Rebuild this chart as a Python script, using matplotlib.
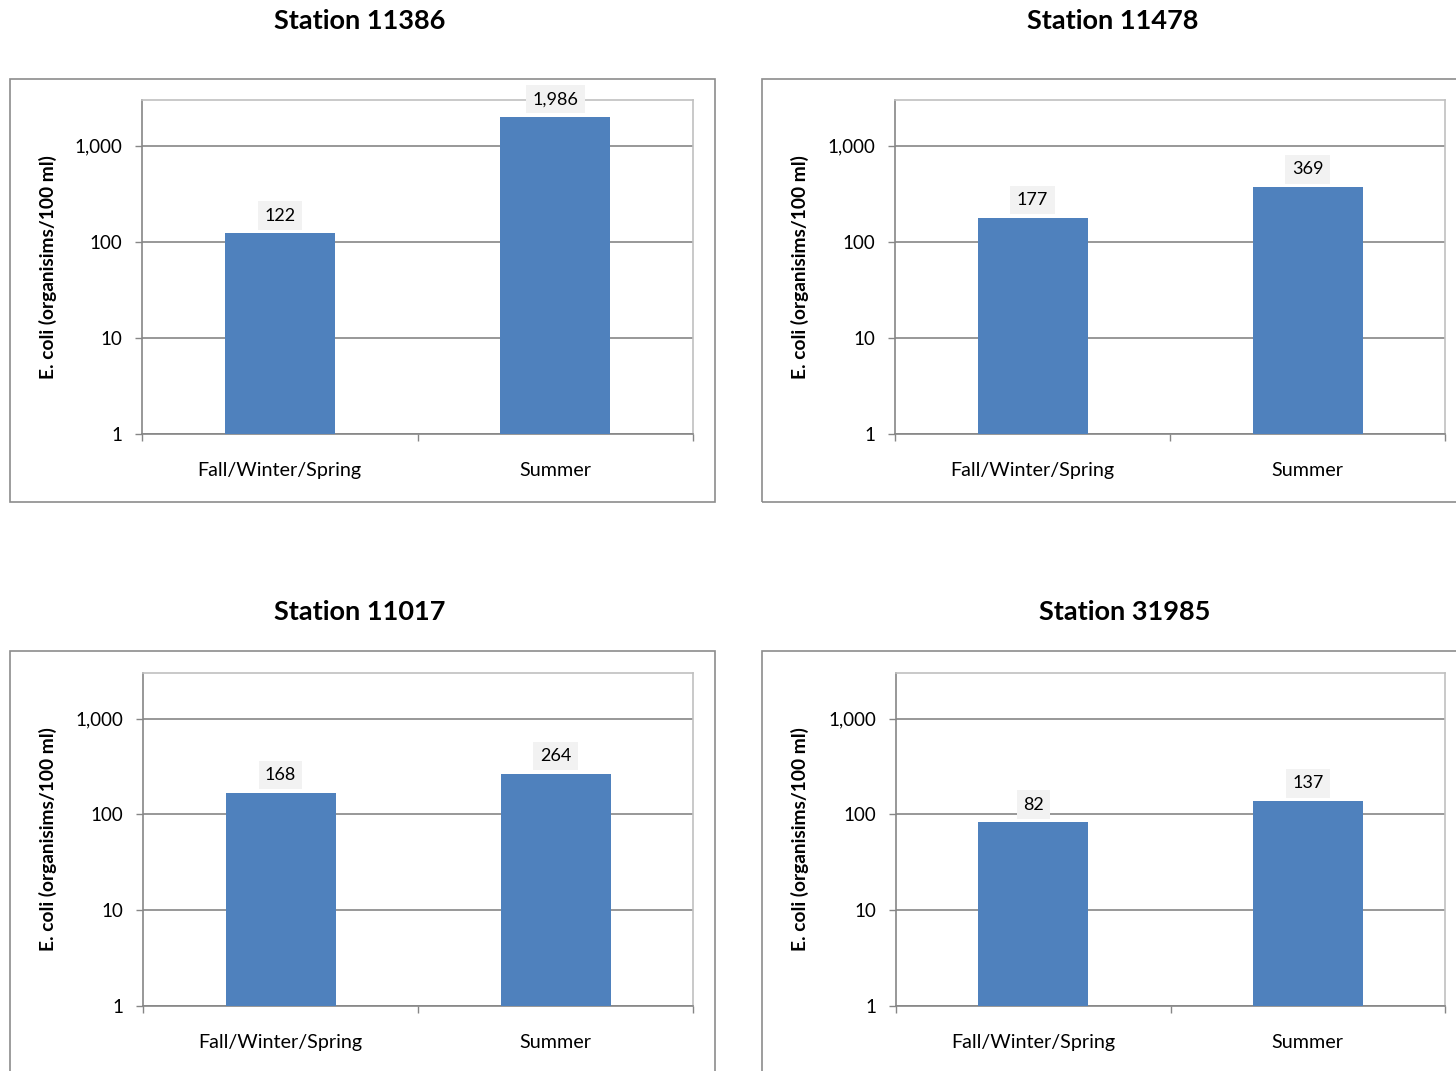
import matplotlib.pyplot as plt
from matplotlib.patches import Rectangle
from matplotlib.ticker import FuncFormatter, FixedLocator, NullFormatter

plt.rcParams['font.family'] = ['Lato', 'DejaVu Sans']

stations = ['Station 11386', 'Station 11478', 'Station 11017', 'Station 31985']
categories = ['Fall/Winter/Spring', 'Summer']
fall_values = [122, 177, 168, 82]
summer_values = [1986, 369, 264, 137]
y_label = 'E. coli (organisims/100 ml)'

W, H = 1456, 1071
BAR = '#4f81bd'
GRID = '#868686'

# pixel layout: (title x, title y, box left, box top, axes left, axes top, axes right, axes bottom)
layout = [
    (360, 21, 10, 79, 142, 100, 693, 434),
    (1113, 21, 762, 79, 895, 100, 1445, 434),
    (360, 612, 10, 651, 143, 673, 693, 1006),
    (1125, 612, 762, 651, 896, 673, 1445, 1006),
]

fig = plt.figure(figsize=(W / 100, H / 100), dpi=100)
fig.patch.set_facecolor('white')


def fmt(v, pos):
    return '{:,.0f}'.format(v)


for i, (tx, ty, bl, bt, al, at, ar, ab) in enumerate(layout):
    fig.text(tx / W, 1 - ty / H, stations[i], ha='center', va='center',
             fontsize=19.5, fontweight='bold')
    fig.patches.append(Rectangle((bl / W, 1 - (bt + 423) / H), 705 / W, 423 / H,
                                 transform=fig.transFigure, fill=False,
                                 edgecolor='#8c8c8c', linewidth=1.2))

    ax = fig.add_axes([al / W, 1 - ab / H, (ar - al) / W, (ab - at) / H])
    vals = [fall_values[i], summer_values[i]]
    ax.set_yscale('log')
    ax.set_ylim(1, 3000)
    ax.set_xlim(-0.5, 1.5)
    ax.bar([0, 1], vals, width=0.4, color=BAR, zorder=3, bottom=1)

    ax.yaxis.set_major_locator(FixedLocator([1, 10, 100, 1000]))
    ax.yaxis.set_major_formatter(FuncFormatter(fmt))
    ax.yaxis.set_minor_formatter(NullFormatter())
    ax.tick_params(axis='y', which='minor', length=0)
    ax.tick_params(axis='y', which='major', length=5, width=1, color=GRID,
                   pad=9, labelsize=13.5)
    ax.grid(axis='y', which='major', color=GRID, linewidth=1.2, zorder=0)

    ax.set_xticks([-0.5, 0.5, 1.5])
    ax.set_xticklabels(['', '', ''])
    ax.set_xticks([0, 1], minor=True)
    ax.set_xticklabels(categories, minor=True)
    ax.tick_params(axis='x', which='major', length=5, width=1, color=GRID)
    ax.tick_params(axis='x', which='minor', length=0, pad=20, labelsize=14.2)

    for side in ['top', 'right']:
        ax.spines[side].set_color('#c0c0c0')
        ax.spines[side].set_linewidth(1.2)
    for side in ['left', 'bottom']:
        ax.spines[side].set_color(GRID)
        ax.spines[side].set_linewidth(1.2)

    ax.set_ylabel(y_label, fontsize=13.8, fontweight='bold')
    ax.yaxis.set_label_coords((bl + 47 - al) / (ar - al), 0.5)

    for x, v in zip([0, 1], vals):
        ax.annotate('{:,}'.format(v), (x, v), xytext=(0, 13),
                    textcoords='offset points', ha='center', va='center',
                    fontsize=13, zorder=5,
                    bbox=dict(boxstyle='square,pad=0.35', facecolor='#f2f2f2',
                              edgecolor='none'))

fig.savefig('out.png', dpi=100, facecolor='white')
